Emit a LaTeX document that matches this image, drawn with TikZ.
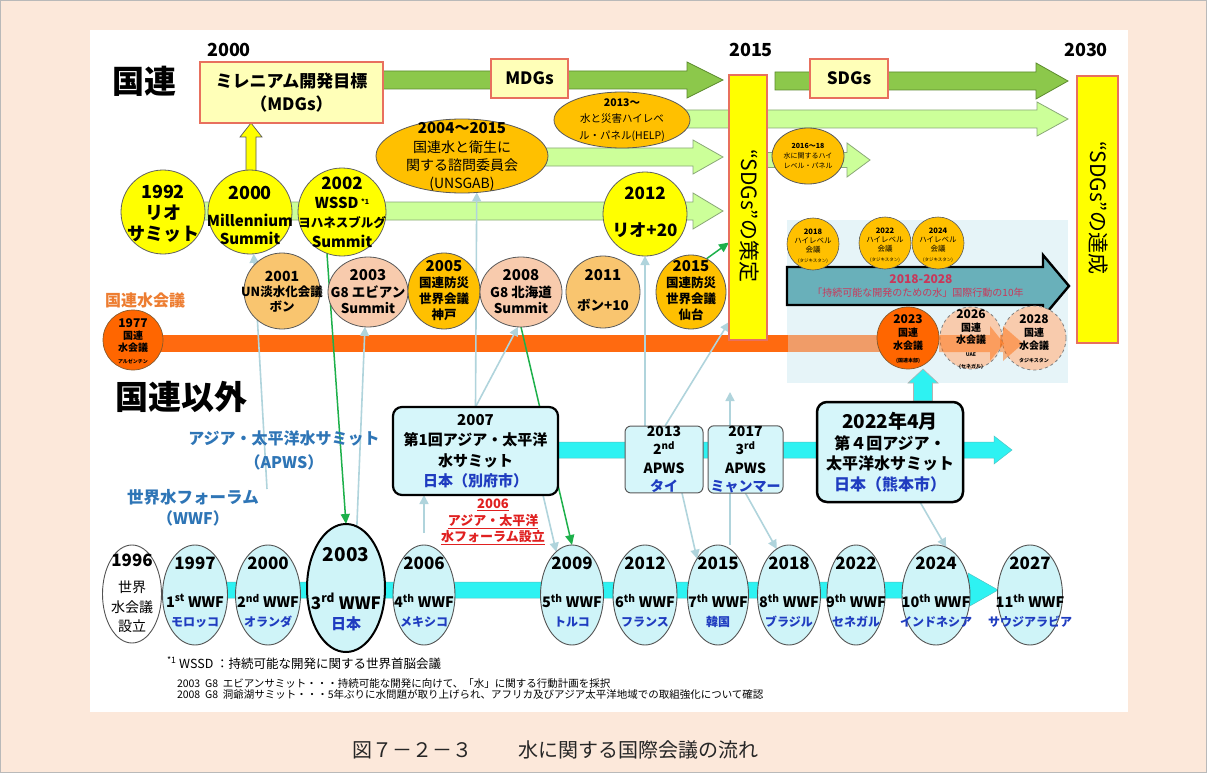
\documentclass[tikz,border=0pt]{standalone}
\usepackage{fontspec}
\setmainfont{Noto Sans CJK JP}
\usetikzlibrary{shapes.geometric,arrows.meta}
\pgfdeclarelayer{bg}
\pgfdeclarelayer{mid}
\pgfsetlayers{bg,mid,main}
\newcommand\fsz[2]{\fontsize{#1}{#2}\selectfont}
\newcommand\fatarr[7]{\draw[#1] (#2,#4-#5) -- (#3-#7,#4-#5) -- (#3-#7,#4-#6) -- (#3,#4) -- (#3-#7,#4+#6) -- (#3-#7,#4+#5) -- (#2,#4+#5) -- cycle;}
\definecolor{bgpeach}{HTML}{FCE8DA}
\definecolor{cyel}{HTML}{FFFF00}
\definecolor{camber}{HTML}{FFC000}
\definecolor{clor}{HTML}{F9C56F}
\definecolor{cpeach}{HTML}{F8CBAD}
\definecolor{cdor}{HTML}{FF6600}
\definecolor{cband}{HTML}{FF6A10}
\definecolor{cbandl}{HTML}{F09C68}
\definecolor{clgreen}{HTML}{CCFF99}
\definecolor{clgreenE}{HTML}{8AA878}
\definecolor{cgreen}{HTML}{8CC84B}
\definecolor{cgreenE}{HTML}{5C8A2E}
\definecolor{cteal}{HTML}{69B0BA}
\definecolor{cregion}{HTML}{E6F4F8}
\definecolor{ccyan}{HTML}{2EF2F2}
\definecolor{clcyan}{HTML}{CFF4F8}
\definecolor{cbox}{HTML}{D6F6FA}
\definecolor{cblue}{HTML}{1F3CC0}
\definecolor{clabel}{HTML}{2E75B6}
\definecolor{cred}{HTML}{E8705E}
\definecolor{cboxfill}{HTML}{FFFFB8}
\definecolor{carrow}{HTML}{B0D4DC}
\definecolor{cgline}{HTML}{1DB04A}
\definecolor{ctealtext}{HTML}{C8385A}
\definecolor{corangetext}{HTML}{ED7D31}
\definecolor{c2006}{HTML}{E02020}
\newcommand\wwfnode[6]{%
\node[wwfell, minimum width=#3pt] (w#1) at (#2,595) {};
\node[wwfyr] (w#1y) at (#2,563) {#4};
\node[wwftx] (w#1t) at (#2,611) {#5\\{\fsz{12}{19}\textcolor{cblue}{#6}}};}
\begin{document}
\begin{tikzpicture}[x=1pt,y=-1pt,
  every node/.style={inner sep=0pt, outer sep=0pt},
  ycirc/.style={circle, draw=gray!75!black, line width=0.8pt, fill=cyel},
  oell/.style={ellipse, draw=gray!70!black, line width=0.8pt},
  redbox/.style={rectangle, draw=cred, line width=2.6pt, fill=cboxfill, align=center},
  sdgbox/.style={rectangle, draw=cred, line width=2.6pt, fill=cyel},
  garr/.style={fill=cgreen, draw=cgreenE, line width=0.8pt},
  lgarr/.style={fill=clgreen, draw=clgreenE, line width=0.8pt},
  carr/.style={fill=ccyan, draw=ccyan!60!gray, line width=0.5pt},
  conn/.style={draw=carrow, line width=1.6pt, -{Triangle[length=9pt,width=9pt]}},
  gconn/.style={draw=cgline, line width=1.5pt, -{Triangle[length=10pt,width=9pt]}},
  apbox/.style={rectangle, fill=cbox, align=center},
  wwfell/.style={ellipse, draw=gray!65!black, line width=0.9pt, fill=clcyan, minimum height=100pt},
  wwfyr/.style={font=\bfseries\fsz{17}{18}},
  wwftx/.style={align=center, font=\bfseries\fsz{14.5}{19}},
  ctext/.style={align=center},
]
\useasboundingbox (0,0) rectangle (1207,773);
\begin{pgfonlayer}{bg}
\fill[bgpeach] (0,0) rectangle (1207,773);
\draw[gray!55, line width=1pt] (0.5,0.5) rectangle (1206.5,772.5);
\fill[white] (90,30) rectangle (1128,712);
\fill[cregion] (787,220) rectangle (1068,383);
\fatarr{garr}{383}{723}{80}{9}{18}{36}
\fatarr{garr}{775}{1068}{81}{9}{18}{32}
\fatarr{lgarr}{680}{1068}{119}{9}{17}{31}
\fatarr{lgarr}{540}{723}{157}{9}{17}{30}
\fatarr{lgarr}{163}{723}{211}{9}{18}{30}
\fatarr{lgarr}{767}{870}{160}{7.5}{17}{23}
\draw[fill=cyel, draw=gray!70!black, line width=0.7pt] (246,172) -- (246,137) -- (240,137) -- (251,123) -- (262,137) -- (256,137) -- (256,172) -- cycle;
\fill[cband] (133,335) rectangle (788,352);
\fill[cbandl] (788,335) rectangle (908,352);
\fatarr{fill=cteal, draw=black, line width=2.4pt}{787}{1069}{286}{19}{31}{26}
\draw[fill=ccyan, draw=gray!60, line width=0.6pt] (913.5,401) -- (913.5,383) -- (908,383) -- (923,369) -- (938,383) -- (932.5,383) -- (932.5,401) -- cycle;
\fatarr{carr}{475}{1012}{450}{8}{14}{18}
\fatarr{carr}{195}{998}{590}{8}{17}{30}
\end{pgfonlayer}

% labels
\node[font=\bfseries\fsz{32}{36}] (lblun) at (144,81) {国連};
\node[font=\bfseries\fsz{33}{36}] (lblnon) at (181,397) {国連以外};
\node[font=\bfseries\fsz{18}{20}] (y2000) at (229,50) {2000};
\node[font=\bfseries\fsz{18}{20}] (y2015) at (751,50) {2015};
\node[font=\bfseries\fsz{18}{20}] (y2030) at (1086,50) {2030};
\node[font=\bfseries\fsz{16}{18}, text=corangetext] (lblwc) at (145,300) {国連水会議};
\node[font=\bfseries\fsz{16}{18}, text=clabel] (lblap1) at (284,438) {アジア・太平洋水サミット};
\node[font=\bfseries\fsz{16}{18}, text=clabel] (lblap2) at (284,462) {（APWS）};
\node[font=\bfseries\fsz{16.5}{18}, text=clabel] (lblww1) at (193,497) {世界水フォーラム};
\node[font=\bfseries\fsz{16}{18}, text=clabel] (lblww2) at (193,518) {（WWF）};

% boxes top
\node[redbox, minimum width=183pt, minimum height=61pt, font=\bfseries\fsz{17}{23}] (mdg) at (291.5,92.5) {ミレニアム開発目標\\（MDGs）};
\node[redbox, minimum width=77pt, minimum height=39pt, font=\bfseries\fsz{17}{18}] (lmdg) at (529.5,78.5) {MDGs};
\node[redbox, minimum width=78pt, minimum height=39pt, font=\bfseries\fsz{17}{18}] (lsdg) at (849,78.5) {SDGs};
\node[sdgbox, minimum width=38pt, minimum height=265pt] (sdg1) at (748,207.5) {};
\node[rotate=-90, font=\fsz{21}{24}] (sdg1t) at (749,216) {“SDGs”の策定};
\node[sdgbox, minimum width=41pt, minimum height=267pt] (sdg2) at (1097.5,209.5) {};
\node[rotate=-90, font=\fsz{21}{24}] (sdg2t) at (1098,208) {“SDGs”の達成};

% orange ellipses top
\node[oell, fill=camber, minimum width=136pt, minimum height=56pt] (help) at (622,120) {};
\node[ctext, font=\fsz{10.5}{16.5}] (helpt) at (622,120) {\textbf{2013～}\\水と災害ハイレベ\\ル・パネル(HELP)};
\node[oell, fill=camber, minimum width=172pt, minimum height=74pt] (ung) at (462,156) {};
\node[ctext, font=\fsz{14}{18.3}] (ungt) at (462,157) {{\bfseries\fsz{15}{18.3}2004～2015}\\国連水と衛生に\\関する諮問委員会\\(UNSGAB)};
\node[oell, fill=camber, minimum width=72pt, minimum height=56pt] (hp16) at (808,156) {};
\node[ctext, font=\fsz{7}{10}] (hp16t) at (808,156) {\textbf{2016～18}\\水に関するハイ\\レベル・パネル};

% yellow circles
\node[ycirc, minimum size=84pt] (c1992) at (163,212) {};
\node[ctext, font=\bfseries\fsz{18}{21}] (c1992t) at (163,214) {1992\\リオ\\サミット};
\node[ycirc, minimum size=84pt] (c2000) at (250,212) {};
\node[ctext, font=\bfseries\fsz{15}{18}] (c2000t) at (250,215) {{\fsz{18}{18}2000}\\[9pt]Millennium\\Summit};
\node[ycirc, minimum size=88pt] (c2002) at (342,212) {};
\node[ctext, font=\bfseries\fsz{15}{19.3}] (c2002t) at (342,212) {{\fsz{17}{19.3}2002}\\WSSD\,{\fsz{7}{7}\raisebox{4pt}{*1}}\\{\fsz{12.5}{19.3}ヨハネスブルグ}\\Summit};
\node[ycirc, minimum size=84pt] (c2012) at (645,214) {};
\node[ctext, font=\bfseries\fsz{17}{19}] (c2012t) at (645,212) {2012\\[18pt]リオ+20};

% second row
\node[oell, fill=clor, minimum width=76pt, minimum height=76pt] (g01) at (282,291) {};
\node[ctext, font=\bfseries\fsz{12.5}{15}] (g01t) at (282,292) {{\fsz{14}{15}2001}\\UN淡水化会議\\ボン};
\node[oell, fill=cpeach, minimum width=80pt, minimum height=70pt] (g03) at (368,292) {};
\node[ctext, font=\bfseries\fsz{13.5}{16.5}] (g03t) at (368,292) {{\fsz{15}{16.5}2003}\\G8 エビアン\\Summit};
\node[oell, fill=camber, minimum width=72pt, minimum height=76pt] (g05) at (444,291) {};
\node[ctext, font=\bfseries\fsz{12.5}{16}] (g05t) at (444,291) {{\fsz{15}{16}2005}\\国連防災\\世界会議\\神戸};
\node[oell, fill=cpeach, minimum width=82pt, minimum height=70pt] (g08) at (521,292) {};
\node[ctext, font=\bfseries\fsz{13.5}{16.5}] (g08t) at (521,292) {{\fsz{15}{16.5}2008}\\G8 北海道\\Summit};
\node[oell, fill=clor, minimum width=74pt, minimum height=72pt] (g11) at (603,292) {};
\node[ctext, font=\bfseries\fsz{13.5}{16}] (g11t) at (603,290) {{\fsz{15}{16}2011}\\[14pt]ボン+10};
\node[oell, fill=camber, minimum width=70pt, minimum height=74pt] (s15) at (691,292) {};
\node[ctext, font=\bfseries\fsz{12.5}{16}] (s15t) at (691,291) {{\fsz{15}{16}2015}\\国連防災\\世界会議\\仙台};

% UN water conference
\node[circle, draw=brown!70!black, line width=0.7pt, fill=cdor, minimum size=60pt] (c1977) at (133,340) {};
\node[ctext, font=\bfseries\fsz{10}{12}] (c1977t) at (133,341) {{\fsz{12}{12}1977}\\国連\\水会議\\{\fsz{5}{6}アルゼンチン}};

\node[circle, draw=gray!70!black, line width=0.6pt, fill=camber, minimum size=52pt] (h18) at (813,244) {};
\node[ctext, font=\fsz{7.5}{9.3}] (h18t) at (813,246) {\textbf{2018}\\ハイレベル\\会議\\{\fsz{4.5}{5}(タジキスタン)}};
\node[circle, draw=gray!70!black, line width=0.6pt, fill=camber, minimum size=52pt] (h22) at (885,243) {};
\node[ctext, font=\fsz{7.5}{9.3}] (h22t) at (885,245) {\textbf{2022}\\ハイレベル\\会議\\{\fsz{4.5}{5}(タジキスタン)}};
\node[circle, draw=gray!70!black, line width=0.6pt, fill=camber, minimum size=52pt] (h24) at (938,243) {};
\node[ctext, font=\fsz{7.5}{9.3}] (h24t) at (938,245) {\textbf{2024}\\ハイレベル\\会議\\{\fsz{4.5}{5}(タジキスタン)}};

\node[circle, draw=brown!70!black, line width=0.7pt, fill=cdor, minimum size=62pt] (u23) at (908,338) {};
\node[circle, draw=gray, dashed, line width=0.8pt, fill=cpeach, minimum size=62pt] (u26) at (971,338) {};
\node[circle, draw=gray, dashed, line width=0.8pt, fill=cpeach, minimum size=64pt] (u28) at (1034,338) {};
\fill[cdor, opacity=0.45] (939,335) -- (990,335) -- (990,326) -- (1004,343.5) -- (990,361) -- (990,352) -- (939,352) -- cycle;
\fill[cdor, opacity=0.45] (1000,335) -- (1003,335) -- (1003,326) -- (1023,343.5) -- (1003,361) -- (1003,352) -- (1000,352) -- cycle;
\node[ctext, font=\bfseries\fsz{10}{13}] (u23t) at (908,339) {{\fsz{12}{13}2023}\\国連\\水会議\\{\fsz{5}{6}(国連本部)}};
\node[ctext, font=\bfseries\fsz{10}{12.5}] (u26t) at (971,340) {{\fsz{12}{12.5}2026}\\国連\\水会議\\{\fsz{5}{6}UAE}\\{\fsz{5}{5}(セネガル)}};
\node[ctext, font=\bfseries\fsz{10}{13}] (u28t) at (1034,339) {{\fsz{12}{13}2028}\\国連\\水会議\\{\fsz{5}{6}タジキスタン}};

\node[font=\bfseries\fsz{12}{14}, text=ctealtext] (dec1) at (921,279) {2018-2028};
\node[font=\fsz{10}{12}, text=ctealtext] (dec2) at (918,293) {「持続可能な開発のための水」国際行動の10年};

% APWS boxes
\node[apbox, draw=black, line width=2.2pt, rounded corners=9pt, minimum width=165pt, minimum height=88pt, font=\bfseries\fsz{15}{20.5}] (b07) at (475.5,451) {2007\\第1回アジア・太平洋\\水サミット\\\textcolor{cblue}{日本（別府市）}};
\node[apbox, draw=gray!70!black, line width=1pt, rounded corners=6pt, minimum width=78pt, minimum height=65pt, font=\bfseries\fsz{14}{18.5}] (b13) at (664,459.5) {2013\\2\textsuperscript{nd}\\APWS\\\textcolor{cblue}{タイ}};
\node[apbox, draw=gray!70!black, line width=1pt, rounded corners=6pt, minimum width=75pt, minimum height=65pt, font=\bfseries\fsz{14}{18.5}] (b17) at (745.5,459.5) {2017\\3\textsuperscript{rd}\\APWS\\\textcolor{cblue}{ミャンマー}};
\node[apbox, draw=black, line width=2.5pt, rounded corners=10pt, minimum width=146pt, minimum height=100pt, font=\bfseries\fsz{16}{20.5}] (b22) at (890,452) {{\fsz{19}{20.5}2022年4月}\\第４回アジア・\\太平洋水サミット\\\textcolor{cblue}{日本（熊本市）}};

\node[ctext, font=\bfseries\fsz{13}{16.5}, text=c2006] (t2006) at (493,522) {\underline{2006}\\\underline{アジア・太平洋}\\\underline{水フォーラム設立}};

% WWF
\node[wwfell, fill=white, minimum width=59pt, minimum height=98pt] (w96) at (132,594) {};
\node[font=\bfseries\fsz{17}{18}] (w96y) at (132,560) {1996};
\node[ctext, font=\fsz{14}{19.5}] (w96t) at (132,607) {世界\\水会議\\設立};
\wwfnode{97}{195}{65}{1997}{1\textsuperscript{st} WWF}{モロッコ}
\wwfnode{00}{268}{65}{2000}{2\textsuperscript{nd} WWF}{オランダ}
\node[wwfell, draw=black, line width=2pt, minimum width=78pt, minimum height=128pt] (w03) at (346,588) {};
\node[font=\bfseries\fsz{19}{20}] (w03y) at (346,555) {2003};
\node[ctext, font=\bfseries\fsz{17}{20}] (w03t) at (346,612) {3\textsuperscript{rd} WWF\\{\fsz{15}{20}\textcolor{cblue}{日本}}};
\wwfnode{06}{424}{62}{2006}{4\textsuperscript{th} WWF}{メキシコ}
\wwfnode{09}{572}{63}{2009}{5\textsuperscript{th} WWF}{トルコ}
\wwfnode{12}{645}{64}{2012}{6\textsuperscript{th} WWF}{フランス}
\wwfnode{15}{718}{61}{2015}{7\textsuperscript{th} WWF}{韓国}
\wwfnode{18}{789}{63}{2018}{8\textsuperscript{th} WWF}{ブラジル}
\wwfnode{22}{856}{58}{2022}{9\textsuperscript{th} WWF}{セネガル}
\wwfnode{24}{936}{68}{2024}{10\textsuperscript{th} WWF}{インドネシア}
\wwfnode{27}{1030}{65}{2027}{11\textsuperscript{th} WWF}{サウジアラビア}

% footnotes and caption
\node[anchor=west, font=\fsz{12.5}{14}] (fn1) at (167,663) {\textsuperscript{*1} WSSD ：持続可能な開発に関する世界首脳会議};
\node[anchor=west, font=\fsz{10.5}{12}] (fn2) at (177,684) {2003\ \ G8\ \ エビアンサミット・・・持続可能な開発に向けて、「水」に関する行動計画を採択};
\node[anchor=west, font=\fsz{10.5}{12}] (fn3) at (177,695) {2008\ \ G8\ \ 洞爺湖サミット・・・5年ぶりに水問題が取り上げられ、アフリカ及びアジア太平洋地域での取組強化について確認};
\node[font=\fsz{20}{22}, text=black!85] (cap1) at (412,750) {図７－２－３};
\node[font=\fsz{20}{22}, text=black!85] (cap2) at (638,750) {水に関する国際会議の流れ};

% connectors
\coordinate (apf) at (267,489);
\coordinate (f2) at (730,392);
\begin{pgfonlayer}{mid}
\draw[conn] (apf) -- (c2000.-85);
\draw[conn] (w03.80) -- (g03.-95);
\draw[gconn] (c2002.-110) -- (w03.north);
\draw[conn] (b07.north) -- (ung.-68);
\draw[conn] (b07.north) -- (g08.-95);
\draw[gconn] (g08.south) -- (w09.north);
\draw[conn, shorten <=12pt] (w06.north) -- (w06.north |- b07.south);
\draw[conn] ([xshift=-15pt]b07.south east) -- (w09.110);
\draw[conn] (c2012.south |- b13.north) -- (c2012.south);
\draw[conn] ([xshift=1pt]b13.north) -- ([yshift=18pt]sdg1.south west);
\draw[gconn] (s15.65) -- ([yshift=-35pt]sdg1.west);
\draw[conn] ([xshift=18pt]b13.south) -- (w15.120);
\draw[conn] (f2 |- w15.north) -- (f2);
\draw[conn] (b17.south) -- (w18.105);
\draw[conn] ([xshift=30pt]b22.south) -- (w24.78);
\end{pgfonlayer}
\end{tikzpicture}
\end{document}
